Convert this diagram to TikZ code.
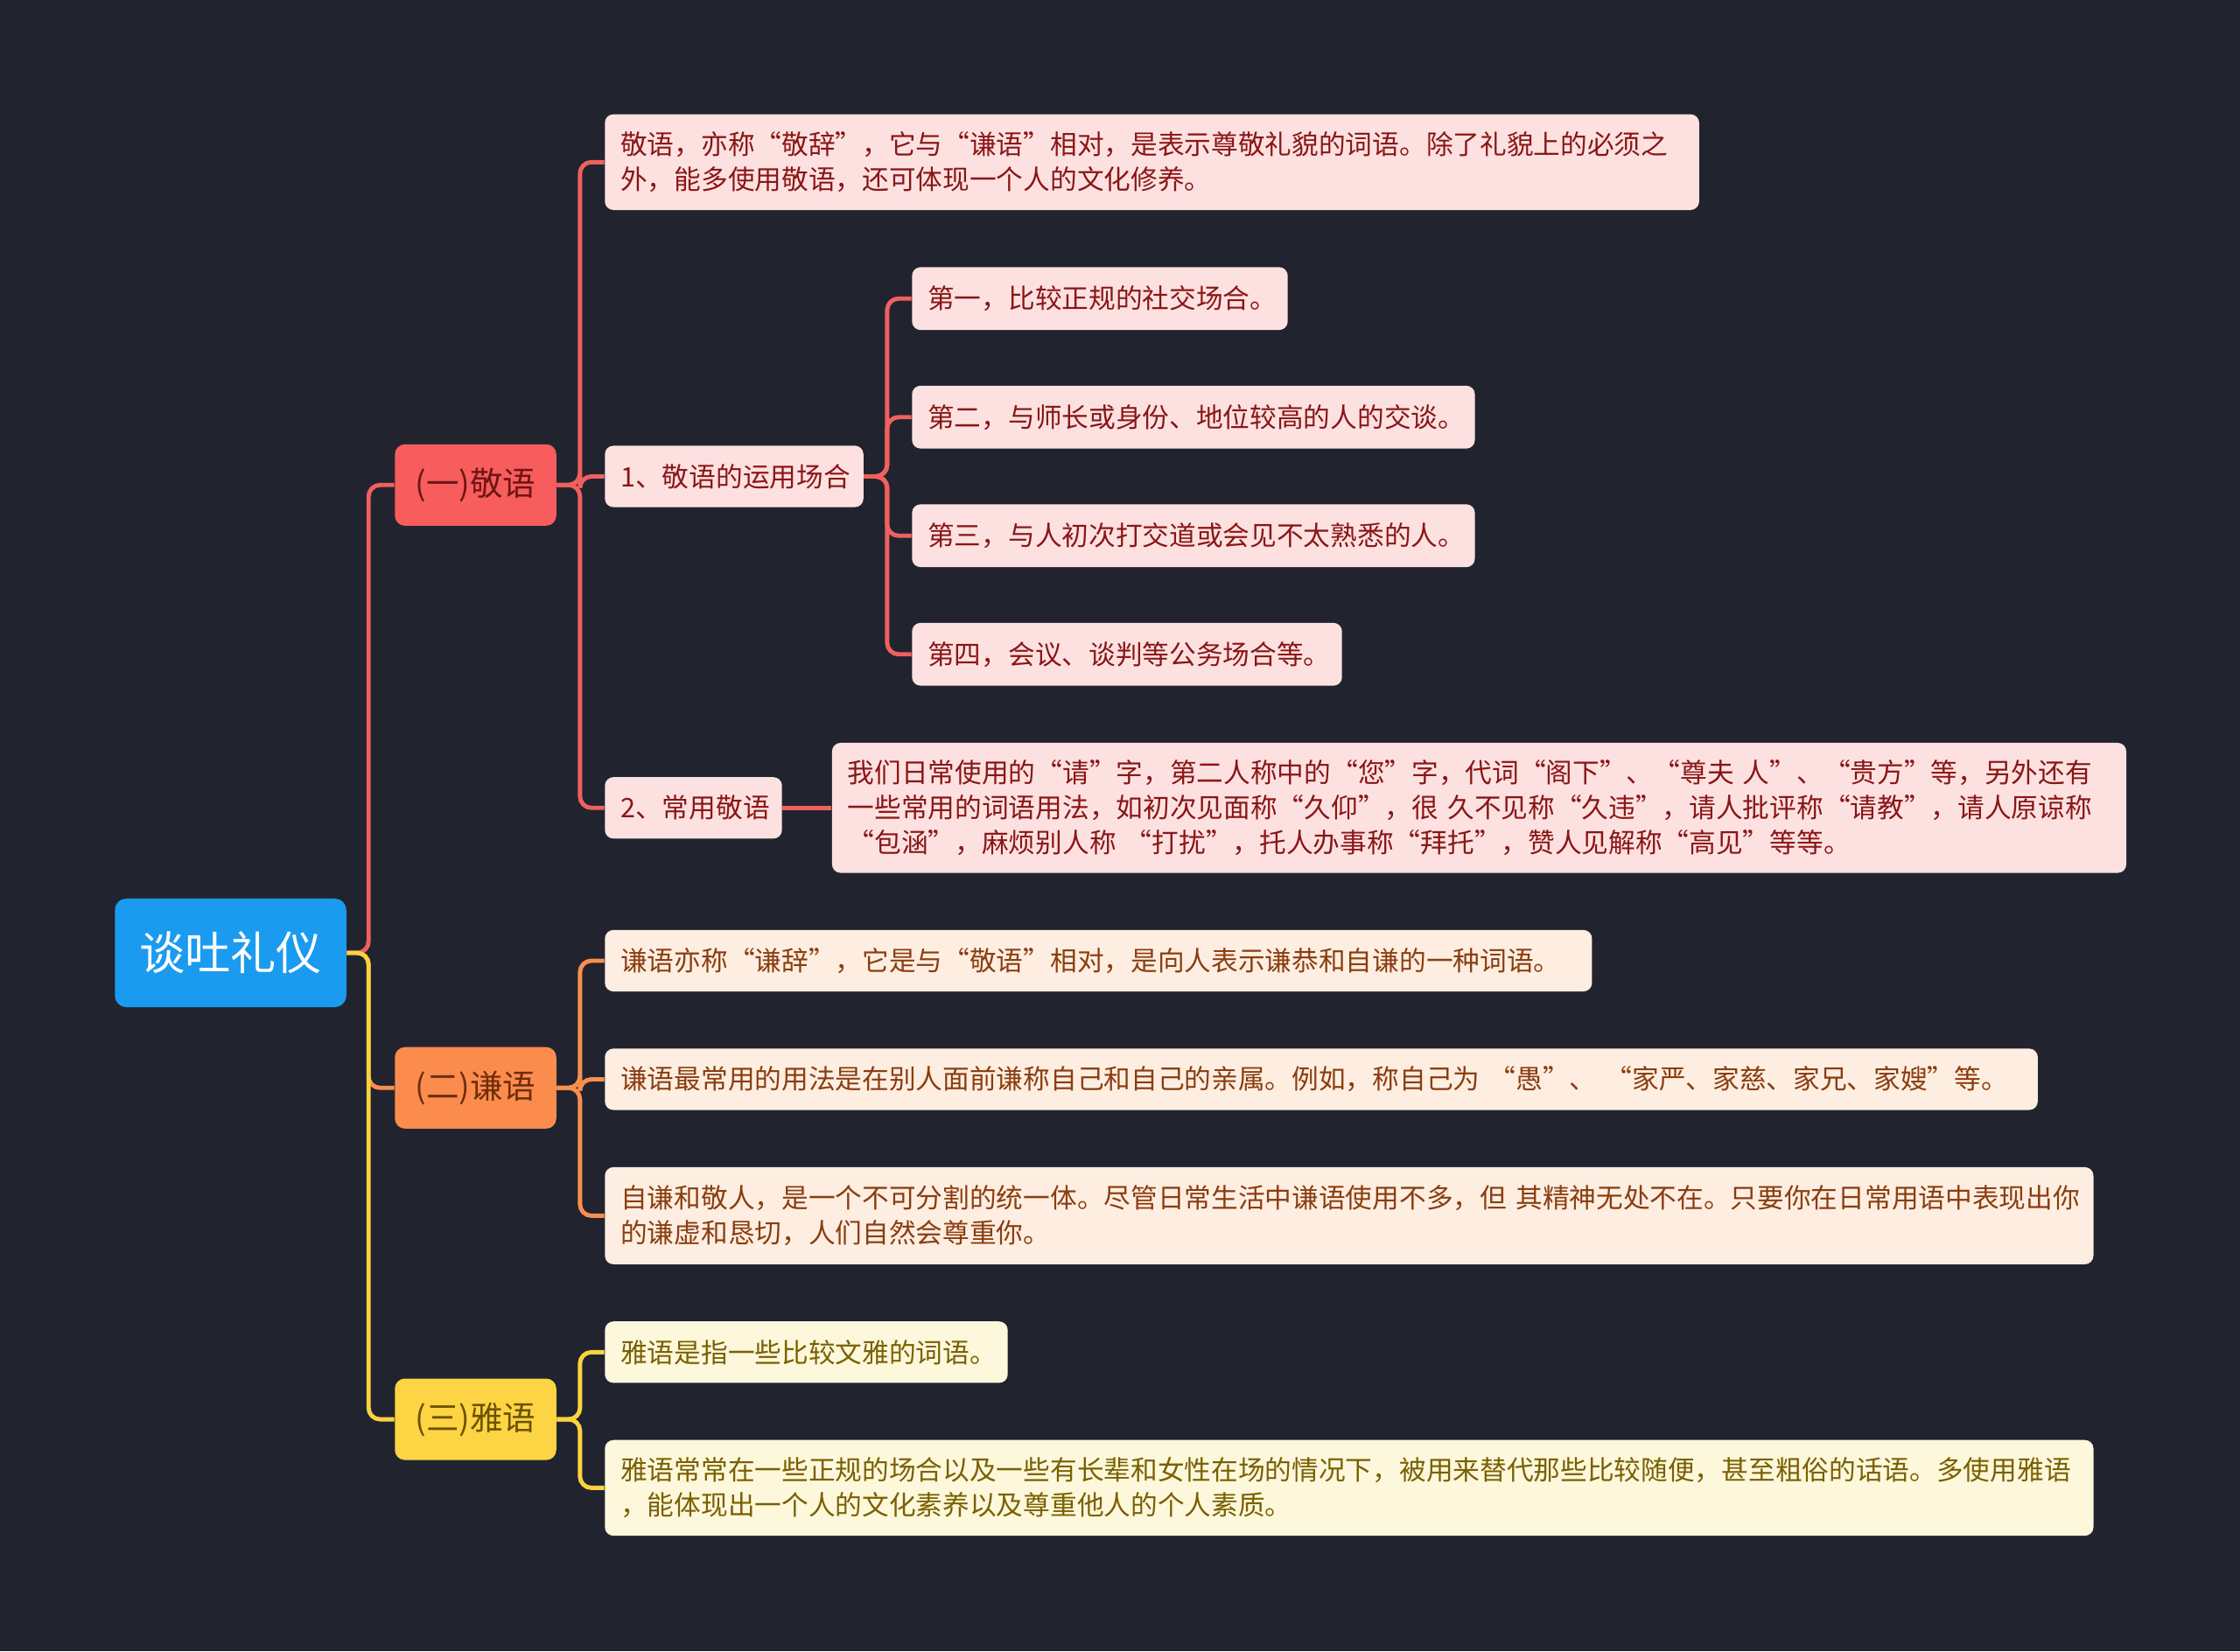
\documentclass[tikz,border=0pt]{standalone}
\usepackage{fontspec}
\setmainfont{Noto Sans CJK SC}
\definecolor{bg}{HTML}{21242F}
\definecolor{rootc}{HTML}{1A9BF0}
\definecolor{redL}{HTML}{F65D5C}
\definecolor{oraL}{HTML}{FC8C4E}
\definecolor{yelL}{HTML}{FDD443}
\definecolor{redF}{HTML}{FDE1E1}
\definecolor{oraF}{HTML}{FEEEE1}
\definecolor{yelF}{HTML}{FDF8DC}
\definecolor{redT}{HTML}{8A1616}
\definecolor{oraT}{HTML}{8A3D10}
\definecolor{yelT}{HTML}{7A6000}
\definecolor{redD}{HTML}{6E1515}
\definecolor{oraD}{HTML}{6E2E0C}
\definecolor{yelD}{HTML}{6B5200}
\definecolor{redE}{HTML}{F0605E}
\definecolor{oraE}{HTML}{F98F4D}
\definecolor{yelE}{HTML}{FBD340}
\tikzset{
  base/.style={rounded corners=3pt, inner xsep=5.5pt, inner ysep=0pt, align=left, anchor=west,
    font=\fontsize{9.4}{12.2}\selectfont},
  rootbox/.style={rounded corners=4pt, fill=rootc, text=white, anchor=west, inner sep=0pt,
    minimum width=81pt, minimum height=38pt, font=\fontsize{16}{18}\selectfont},
  lone/.style={rounded corners=3.5pt, anchor=west, inner sep=0pt,
    minimum width=56.5pt, minimum height=28.5pt, font=\fontsize{11.5}{13}\selectfont},
  rbox/.style={base, fill=redF, text=redT},
  obox/.style={base, fill=oraF, text=oraT},
  ybox/.style={base, fill=yelF, text=yelT},
  link/.style={line width=1.5pt, rounded corners=4pt},
}
\begin{document}
\begin{tikzpicture}[x=0.5pt, y=-0.5pt]
\fill[bg] (0,0) rectangle (1568,1156);
\useasboundingbox (0,0) rectangle (1568,1156);

% root and level 1
\node[rootbox] (root) at (80,667) {谈吐礼仪};
\node[lone, fill=redL, text=redD] (jing) at (276,339.5) {(一)敬语};
\node[lone, fill=oraL, text=oraD] (qian) at (276,761.5) {(二)谦语};
\node[lone, fill=yelL, text=yelD] (ya) at (276,993.5) {(三)雅语};

% level 2 under 敬语
\node[rbox, text width=372pt, minimum height=33.5pt] (a1) at (423,113.5)
  {敬语，亦称“敬辞”，它与“谦语”相对，是表示尊敬礼貌的词语。除了礼貌上的必须之\\外，能多使用敬语，还可体现一个人的文化修养。};
\node[rbox, text width=79.5pt, minimum height=21.5pt] (b1) at (423,333.5) {1、敬语的运用场合};
\node[rbox, text width=51pt, minimum height=21.5pt] (b2) at (423,565.5) {2、常用敬语};

\node[rbox, text width=120.5pt, minimum height=22pt] (c1) at (638,209) {第一，比较正规的社交场合。};
\node[rbox, text width=186pt, minimum height=22pt] (c2) at (638,292) {第二，与师长或身份、地位较高的人的交谈。};
\node[rbox, text width=186pt, minimum height=22pt] (c3) at (638,375) {第三，与人初次打交道或会见不太熟悉的人。};
\node[rbox, text width=139.5pt, minimum height=22pt] (c4) at (638,458) {第四，会议、谈判等公务场合等。};

\node[rbox, text width=442pt, minimum height=45.5pt] (d) at (582,565.5)
  {我们日常使用的“请”字，第二人称中的“您”字，代词“阁下”、“尊夫~人”、“贵方”等，另外还有\\一些常用的词语用法，如初次见面称“久仰”，很~久不见称“久违”，请人批评称“请教”，请人原谅称\\“包涵”，麻烦别人称~“打扰”，托人办事称“拜托”，赞人见解称“高见”等等。};

% level 2 under 谦语
\node[obox, text width=334.5pt, minimum height=21.5pt] (q1) at (423,672.5)
  {谦语亦称“谦辞”，它是与“敬语”相对，是向人表示谦恭和自谦的一种词语。};
\node[obox, text width=490.5pt, minimum height=21.5pt] (q2) at (423,755.5)
  {谦语最常用的用法是在别人面前谦称自己和自己的亲属。例如，称自己为~“愚”、~“家严、家慈、家兄、家嫂”等。};
\node[obox, text width=510pt, minimum height=34pt] (q3) at (423,851)
  {自谦和敬人，是一个不可分割的统一体。尽管日常生活中谦语使用不多，但~其精神无处不在。只要你在日常用语中表现出你\\的谦虚和恳切，人们自然会尊重你。};

% level 2 under 雅语
\node[ybox, text width=130pt, minimum height=21.5pt] (y1) at (423,946.5) {雅语是指一些比较文雅的词语。};
\node[ybox, text width=510pt, minimum height=33.5pt] (y2) at (423,1041.5)
  {雅语常常在一些正规的场合以及一些有长辈和女性在场的情况下，被用来替代那些比较随便，甚至粗俗的话语。多使用雅语\\，能体现出一个人的文化素养以及尊重他人的个人素质。};

% connectors
\draw[link, oraE] (root.east) -- (258,667) |- (qian.west);
\draw[link, redE] (root.east) -- (258,667) |- (jing.west);
\draw[link, yelE] (root.east) -- (258,667) |- (ya.west);

\foreach \t in {a1,b1,b2} \draw[link, redE] (jing.east) -- (406,339.5) |- (\t.west);
\foreach \t in {c1,c2,c3,c4} \draw[link, redE] (b1.east) -- (621,333.5) |- (\t.west);
\draw[link, redE] (b2.east) -- (d.west);

\foreach \t in {q1,q2,q3} \draw[link, oraE] (qian.east) -- (406,761.5) |- (\t.west);
\foreach \t in {y1,y2} \draw[link, yelE] (ya.east) -- (406,993.5) |- (\t.west);
\end{tikzpicture}
\end{document}
